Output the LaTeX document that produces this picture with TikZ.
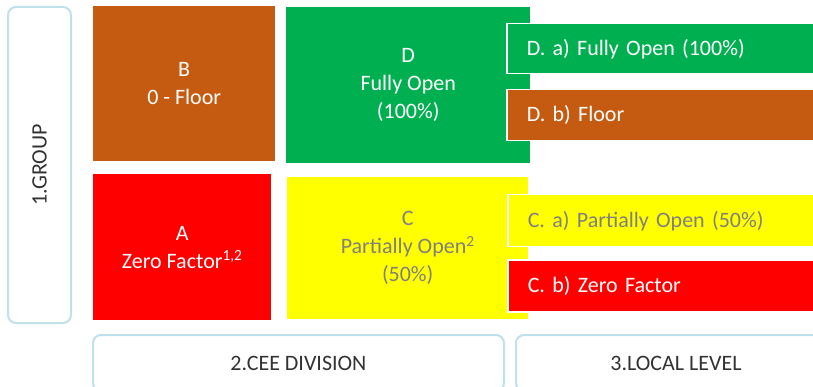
\documentclass[tikz,border=0pt]{standalone}
\usepackage{fontspec}
\setmainfont{Carlito}
\usetikzlibrary{positioning}
\definecolor{floorbrown}{RGB}{197,90,17}
\definecolor{zerored}{RGB}{255,0,0}
\definecolor{opengreen}{RGB}{0,176,80}
\definecolor{partyellow}{RGB}{255,255,0}
\definecolor{frameblue}{RGB}{190,225,235}
\definecolor{partgray}{RGB}{128,128,128}
\definecolor{labelgray}{RGB}{50,50,50}

\begin{document}
\begin{tikzpicture}[x=1pt,y=-1pt,
    every node/.style={font=\fontsize{22}{28}\selectfont},
    group/.style={anchor=north west,inner sep=0pt,align=center,text=white},
    sub/.style={anchor=north west,draw=white,line width=1.5pt,minimum width=330pt,
        inner xsep=17pt,inner ysep=0pt,text width=290pt,align=left,text=white},
    frame/.style={draw=frameblue,line width=2pt,rounded corners=8pt,text=labelgray}]
    \useasboundingbox (0,0) rectangle (813,387);
    \clip (0,0) rectangle (813,387);

    \node[frame,rotate=90,minimum width=316pt,minimum height=63pt] (grp) at (39.5,165) {1.GROUP};

    \node[group,fill=floorbrown,minimum width=182pt,minimum height=155pt] (b) at (93,6) {B\\0 - Floor};
    \node[group,fill=zerored,minimum width=178pt,minimum height=146pt] (a) at (93,174) {A\\Zero Factor\textsuperscript{1,2}};
    \node[group,fill=opengreen,minimum width=244pt,minimum height=156pt] (d) at (286,7) {D\\Fully Open\\(100\%)};
    \node[group,fill=partyellow,text=partgray,minimum width=241pt,minimum height=142pt] (c) at (287,177) {C\\Partially Open\textsuperscript{2}\\(50\%)};

    \node[sub,fill=opengreen,minimum height=50pt] (da) at (506,23) {D. a) Fully Open (100\%)};
    \node[sub,fill=floorbrown,minimum height=51pt] (db) at (506,89) {D. b) Floor};
    \node[sub,fill=partyellow,text=partgray,minimum height=52pt] (ca) at (507,194) {C. a) Partially Open (50\%)};
    \node[sub,fill=zerored,minimum height=52pt] (cb) at (507,259) {C. b) Zero Factor};

    \node[frame,anchor=north west,minimum width=411pt,minimum height=56pt] (cee) at (92,334) {2.CEE DIVISION};
    \node[frame,anchor=north west,minimum width=320pt,minimum height=56pt] (local) at (515,334) {3.LOCAL LEVEL};
\end{tikzpicture}
\end{document}
